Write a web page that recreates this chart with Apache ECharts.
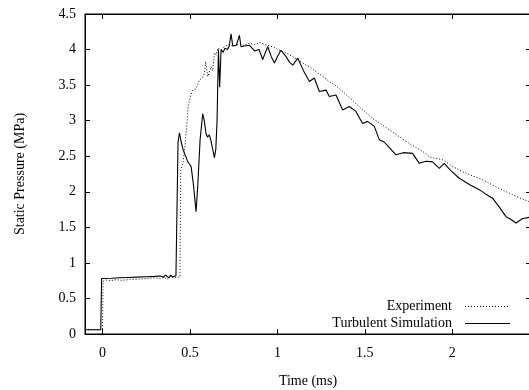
<!DOCTYPE html>
<html>
<head>
<meta charset="utf-8">
<script src="https://cdn.jsdelivr.net/npm/echarts@6/dist/echarts.min.js"></script>
<style>html,body{margin:0;padding:0;background:#fff}#c{width:529px;height:390px}</style>
</head>
<body>
<div id="c"></div>
<script>
const seriesNames = ["Experiment", "Turbulent Simulation"];
const xTicks = [0, 0.5, 1, 1.5, 2];
const yTicks = [0, 0.5, 1, 1.5, 2, 2.5, 3, 3.5, 4, 4.5];

const experiment = [
[-0.1,0.06],[0.0,0.06],[0.003,0.74],[0.02,0.76],[0.05,0.75],[0.08,0.765],[0.1,0.755],[0.13,0.76],[0.16,0.765],[0.2,0.77],[0.25,0.78],[0.3,0.79],[0.33,0.78],[0.35,0.80],[0.37,0.77],[0.39,0.81],[0.41,0.79],[0.43,0.80],[0.443,0.80],[0.447,2.3],[0.46,2.4],[0.47,2.6],[0.478,2.82],[0.49,3.2],[0.5,3.32],[0.516,3.43],[0.535,3.45],[0.554,3.57],[0.57,3.6],[0.583,3.67],[0.59,3.83],[0.602,3.62],[0.621,3.76],[0.63,3.7],[0.64,3.95],[0.65,3.92],[0.659,4.02],[0.68,4.0],[0.697,4.04],[0.72,4.07],[0.75,4.05],[0.78,4.08],[0.81,4.06],[0.84,4.09],[0.87,4.07],[0.9,4.1],[0.93,4.07],[0.96,4.05],[0.99,4.02],[1.011,3.99],[1.05,3.95],[1.088,3.9],[1.145,3.81],[1.18,3.76],[1.221,3.69],[1.26,3.62],[1.297,3.55],[1.34,3.48],[1.373,3.41],[1.41,3.33],[1.449,3.24],[1.5,3.13],[1.545,3.03],[1.6,2.94],[1.64,2.87],[1.7,2.77],[1.754,2.68],[1.83,2.57],[1.869,2.49],[1.945,2.45],[2.0,2.36],[2.06,2.28],[2.12,2.22],[2.173,2.17],[2.25,2.07],[2.326,1.98],[2.38,1.92],[2.44,1.86]
];

const simulation = [
[-0.1,0.06],[-0.01,0.06],[-0.005,0.78],[0.05,0.785],[0.1,0.79],[0.15,0.795],[0.2,0.80],[0.25,0.805],[0.3,0.81],[0.33,0.815],[0.35,0.80],[0.36,0.83],[0.37,0.81],[0.38,0.79],[0.39,0.83],[0.40,0.80],[0.41,0.82],[0.42,0.82],[0.425,0.82],[0.432,2.7],[0.44,2.83],[0.45,2.7],[0.46,2.6],[0.469,2.54],[0.488,2.42],[0.5,2.38],[0.507,2.35],[0.52,2.1],[0.535,1.72],[0.545,2.1],[0.558,2.73],[0.573,3.10],[0.582,3.0],[0.592,2.82],[0.60,2.77],[0.611,2.80],[0.62,2.72],[0.63,2.6],[0.64,2.48],[0.648,2.6],[0.655,3.0],[0.663,4.0],[0.67,3.47],[0.678,4.0],[0.69,3.96],[0.70,4.02],[0.715,4.0],[0.725,4.05],[0.735,4.22],[0.745,4.05],[0.755,4.03],[0.765,4.06],[0.775,4.05],[0.783,4.2],[0.792,4.04],[0.81,4.05],[0.84,4.06],[0.87,3.98],[0.895,4.0],[0.916,3.86],[0.93,3.95],[0.945,4.04],[0.965,3.9],[0.983,3.81],[1.0,3.9],[1.02,3.99],[1.05,3.9],[1.07,3.82],[1.088,3.78],[1.116,3.88],[1.15,3.7],[1.183,3.55],[1.211,3.6],[1.24,3.41],[1.278,3.43],[1.297,3.34],[1.335,3.36],[1.373,3.15],[1.411,3.2],[1.449,3.13],[1.487,2.96],[1.516,2.99],[1.554,2.92],[1.583,2.73],[1.61,2.7],[1.64,2.62],[1.678,2.52],[1.72,2.55],[1.773,2.54],[1.811,2.40],[1.85,2.43],[1.887,2.42],[1.926,2.33],[1.954,2.40],[1.99,2.3],[2.04,2.19],[2.1,2.1],[2.154,2.03],[2.19,1.97],[2.23,1.91],[2.27,1.78],[2.307,1.65],[2.33,1.62],[2.364,1.56],[2.40,1.62],[2.44,1.64]
];

const FONT = "Liberation Serif";
const chart = echarts.init(document.getElementById('c'), null, {renderer: 'canvas'});
function xAx(pos, withLabel) {
  const a = {
    type: 'value', gridIndex: 0, position: pos, min: -0.1, max: 2.45,
    axisLine: {show: true, onZero: false, lineStyle: {color: '#000', width: 1}},
    axisTick: {show: true, inside: true, length: 5, customValues: xTicks, lineStyle: {color: '#000'}},
    axisLabel: {show: withLabel, customValues: xTicks, fontFamily: FONT, fontSize: 14, color: '#000', margin: 12},
    splitLine: {show: false}
  };
  if (withLabel) {
    a.name = 'Time (ms)'; a.nameLocation = 'middle'; a.nameGap = 40;
    a.nameTextStyle = {fontFamily: FONT, fontSize: 14, color: '#000'};
  }
  return a;
}
function yAx(pos, withLabel) {
  const a = {
    type: 'value', gridIndex: 0, position: pos, min: 0, max: 4.5,
    axisLine: {show: true, onZero: false, lineStyle: {color: '#000', width: 1}},
    axisTick: {show: true, inside: true, length: 5, customValues: yTicks, lineStyle: {color: '#000'}},
    axisLabel: {show: withLabel, customValues: yTicks, fontFamily: FONT, fontSize: 14, color: '#000', margin: 9},
    splitLine: {show: false}
  };
  if (withLabel) {
    a.name = 'Static Pressure (MPa)'; a.nameLocation = 'middle'; a.nameGap = 58;
    a.nameTextStyle = {fontFamily: FONT, fontSize: 14, color: '#000'};
  }
  return a;
}
chart.setOption({
  animation: false,
  grid: {left: 85, top: 14, width: 446, height: 320, containLabel: false, outerBoundsMode: 'none',
         show: true, borderColor: '#000', borderWidth: 1, backgroundColor: 'transparent'},
  xAxis: [xAx('bottom', true), xAx('top', false)],
  yAxis: [yAx('left', true), yAx('right', false)],
  graphic: [
    {type: 'text', right: 77, top: 299, style: {text: seriesNames[0], font: '14px "' + FONT + '"', fill: '#000', textAlign: 'right'}},
    {type: 'text', right: 77, top: 316, style: {text: seriesNames[1], font: '14px "' + FONT + '"', fill: '#000', textAlign: 'right'}},
    {type: 'line', shape: {x1: 465, y1: 306.5, x2: 510, y2: 306.5}, style: {stroke: '#000', lineWidth: 1, lineDash: [1, 2]}},
    {type: 'line', shape: {x1: 465, y1: 323.5, x2: 510, y2: 323.5}, style: {stroke: '#000', lineWidth: 1.1}}
  ],
  series: [
    {name: seriesNames[0], type: 'line', xAxisIndex: 0, yAxisIndex: 0, data: experiment, symbol: 'none', showSymbol: false,
     lineStyle: {color: '#000', width: 1, type: [1, 2]}, itemStyle: {color: '#000'}},
    {name: seriesNames[1], type: 'line', xAxisIndex: 0, yAxisIndex: 0, data: simulation, symbol: 'none', showSymbol: false,
     lineStyle: {color: '#000', width: 1.1, type: 'solid'}, itemStyle: {color: '#000'}}
  ]
});
</script>
</body>
</html>
